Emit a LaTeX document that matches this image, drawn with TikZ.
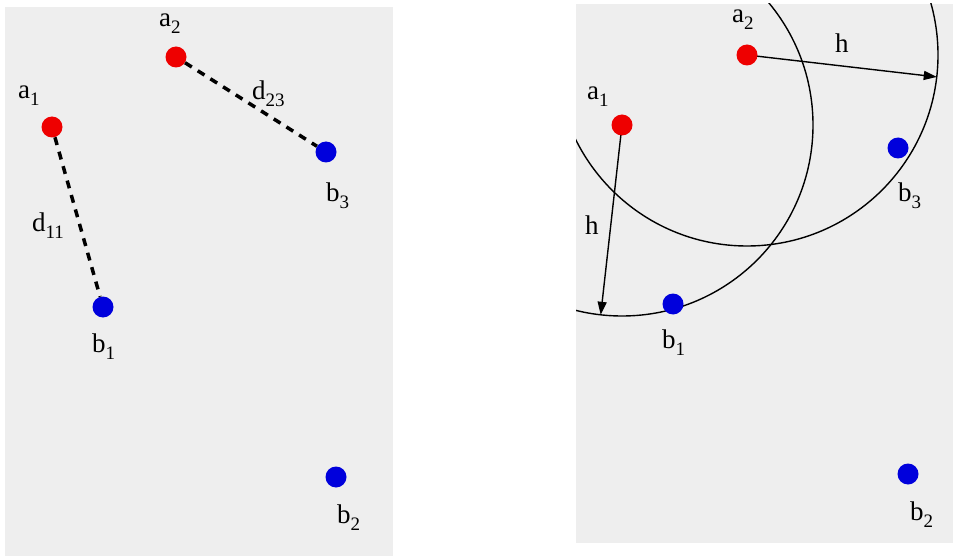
\documentclass[tikz,border=0pt]{standalone}
\usepackage{fontspec}
\setmainfont{Liberation Serif}
\usetikzlibrary{arrows.meta}
\definecolor{dotred}{RGB}{238,0,0}
\definecolor{dotblue}{RGB}{0,0,220}
\definecolor{panelgray}{RGB}{238,238,238}
\newcommand\sublab[2]{#1\raisebox{-7pt}{\fontsize{19}{19}\selectfont #2}}
\tikzset{
  reddot/.style={circle, fill=dotred, inner sep=0pt, minimum size=21pt},
  bluedot/.style={circle, fill=dotblue, inner sep=0pt, minimum size=21pt},
  lbl/.style={anchor=base west, inner sep=0pt, font=\fontsize{27}{30}\selectfont},
  dashlink/.style={line width=3.5pt, dash pattern=on 8pt off 7pt},
  harc/.style={line width=1.4pt},
  harrow/.style={line width=1.4pt, -{Triangle[length=13pt,width=9pt]}}
}
\begin{document}
\begin{tikzpicture}[x=1pt,y=-1pt]
  \useasboundingbox (0,0) rectangle (953,556);
  \fill[panelgray] (5,7) rectangle (393,556);
  \fill[panelgray] (576,4) rectangle (953,543);
  % left panel
  \node[reddot] (a1) at (52,127) {};
  \node[reddot] (a2) at (176,57) {};
  \node[bluedot] (b1) at (103,307) {};
  \node[bluedot] (b2) at (336,477) {};
  \node[bluedot] (b3) at (326,152) {};
  \draw[dashlink] (a1) -- (b1);
  \draw[dashlink] (a2) -- (b3);
  \node[lbl] (la1) at (18,99) {\sublab{a}{1}};
  \node[lbl] (la2) at (159,27) {\sublab{a}{2}};
  \node[lbl] (lb1) at (92,352) {\sublab{b}{1}};
  \node[lbl] (lb2) at (337,523) {\sublab{b}{2}};
  \node[lbl] (lb3) at (326,202) {\sublab{b}{3}};
  \node[lbl] (ld11) at (32,232) {\sublab{d}{11}};
  \node[lbl] (ld23) at (252,100) {\sublab{d}{23}};
  % right panel
  \coordinate (ca1) at (622,125);
  \coordinate (ca2) at (747,55);
  \begin{scope}
    \clip (576,4) rectangle (953,543);
    \draw[harc] (ca1) circle[radius=191];
    \draw[harc] (ca2) circle[radius=191];
  \end{scope}
  \path (ca1) ++(96.4:191) coordinate (h1);
  \path (ca2) ++(6.6:191) coordinate (h2);
  \draw[harrow] (ca1) -- (h1);
  \draw[harrow] (ca2) -- (h2);
  \node[reddot] (ra1) at (ca1) {};
  \node[reddot] (ra2) at (ca2) {};
  \node[bluedot] (rb1) at (673,304) {};
  \node[bluedot] (rb2) at (908,474) {};
  \node[bluedot] (rb3) at (898,148) {};
  \node[lbl] (lra1) at (587,100) {\sublab{a}{1}};
  \node[lbl] (lra2) at (732,23) {\sublab{a}{2}};
  \node[lbl] (lrb1) at (662,348) {\sublab{b}{1}};
  \node[lbl] (lrb2) at (910,520) {\sublab{b}{2}};
  \node[lbl] (lrb3) at (898,202) {\sublab{b}{3}};
  \node[lbl] (lh1) at (585,235) {h};
  \node[lbl] (lh2) at (835,53) {h};
\end{tikzpicture}
\end{document}
